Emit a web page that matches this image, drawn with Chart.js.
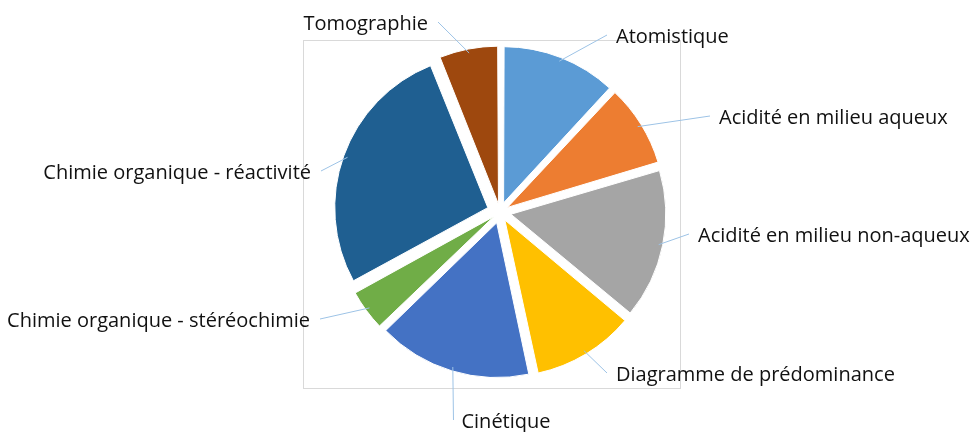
<!DOCTYPE html>
<html>
<head>
<meta charset="utf-8">
<script src="https://cdn.jsdelivr.net/npm/chart.js@4"></script>
<style>
  html, body { margin: 0; padding: 0; background: #fff; }
  #wrap { width: 972px; height: 432px; }
</style>
</head>
<body>
<div id="wrap"><canvas id="pie" width="972" height="432"></canvas></div>
<script>
// topics (clockwise from 12 o'clock) and their share
const topics = [
    'Atomistique',
    'Acidité en milieu aqueux',
    'Acidité en milieu non-aqueux',
    'Diagramme de prédominance',
    'Cinétique',
    'Chimie organique - stéréochimie',
    'Chimie organique - réactivité',
    'Tomographie'
];
const shares = [11.9, 8.5, 15.6, 10.6, 16.1, 4.3, 26.8, 6.1];
const sliceColors = ['#5B9BD5', '#ED7D31', '#A5A5A5', '#FFC000', '#4472C4', '#70AD47', '#1F5F91', '#9E480E'];

// where each label sits on the page (layout only, y = text baseline)
const labelPos = [
    { x: 616, y: 43, align: 'left' },
    { x: 719, y: 124, align: 'left' },
    { x: 698, y: 242, align: 'left' },
    { x: 616, y: 381, align: 'left' },
    { x: 506, y: 428, align: 'center' },
    { x: 310, y: 327, align: 'right' },
    { x: 311, y: 179, align: 'right' },
    { x: 428, y: 30, align: 'right' }
];

const FONT = '20px "Open Sans", Lato, sans-serif';
const EXPLODE = 13; // pixels each slice is pushed out

// chart.js moves an arc by offset/4 * (1 + fix); invert that so every slice moves EXPLODE px
function sliceFix(i) {
    const total = shares.reduce((a, b) => a + b, 0);
    const circ = shares[i] / total * Math.PI * 2;
    return 1 - Math.sin(Math.min(Math.PI, circ));
}
function offsetFor(i) {
    return EXPLODE * 4 / (1 + sliceFix(i));
}

// light frame round the plot area, drawn behind the slices
const framePlugin = {
    id: 'frame',
    beforeDatasetsDraw(chart) {
        const ctx = chart.ctx;
        ctx.save();
        ctx.strokeStyle = '#D9D9D9';
        ctx.lineWidth = 1;
        ctx.strokeRect(303.5, 40.5, 377, 348);
        ctx.restore();
    }
};

// outside labels with thin leader lines
const labelPlugin = {
    id: 'outLabels',
    afterDatasetsDraw(chart) {
        const ctx = chart.ctx;
        const arcs = chart.getDatasetMeta(0).data;
        ctx.save();
        ctx.font = FONT;
        ctx.textBaseline = 'alphabetic';
        arcs.forEach((arc, i) => {
            const p = labelPos[i];
            const txt = topics[i];
            const w = ctx.measureText(txt).width;
            const mid = (arc.startAngle + arc.endAngle) / 2;
            const r = arc.outerRadius + EXPLODE - 4;
            const ex = arc.x + Math.cos(mid) * r;
            const ey = arc.y + Math.sin(mid) * r;
            let sx;
            if (p.align === 'left') sx = p.x - 9;
            else if (p.align === 'right') sx = p.x + 10;
            else sx = p.x - w / 2 - 8;
            ctx.strokeStyle = '#9DC3E6';
            ctx.lineWidth = 1;
            ctx.beginPath();
            ctx.moveTo(sx, p.y - 8);
            ctx.lineTo(ex, ey);
            ctx.stroke();
            ctx.fillStyle = '#111';
            ctx.textAlign = p.align;
            ctx.fillText(txt, p.x, p.y);
        });
        ctx.restore();
    }
};

const config = {
    type: 'pie',
    data: {
        labels: topics,
        datasets: [{
            data: shares,
            backgroundColor: sliceColors,
            borderColor: '#ffffff',
            borderWidth: 1,
            offset: (c) => offsetFor(c.dataIndex)
        }]
    },
    options: {
        responsive: false,
        animation: false,
        radius: 153,
        layout: { padding: { left: 320, right: 292, top: 32, bottom: 40 } },
        plugins: {
            legend: { display: false },
            tooltip: { enabled: false }
        }
    },
    plugins: [framePlugin, labelPlugin]
};

const pieChart = new Chart(document.getElementById('pie'), config);
</script>
</body>
</html>
